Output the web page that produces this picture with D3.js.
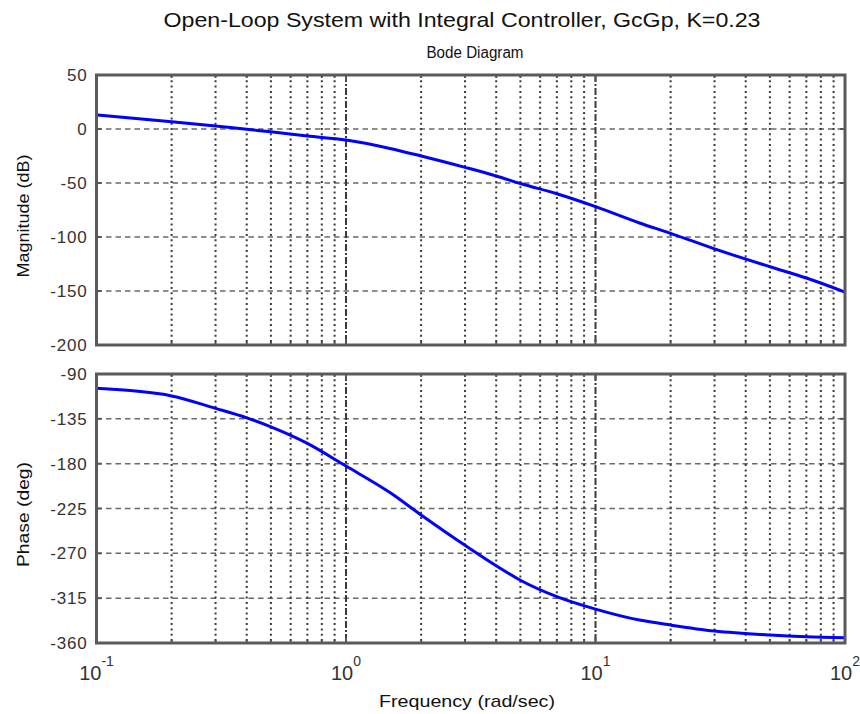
<!DOCTYPE html>
<html>
<head>
<meta charset="utf-8">
<script src="https://cdn.jsdelivr.net/npm/d3@7"></script>
<style>
  body { margin: 0; background: #fff; }
  text { font-family: "Liberation Sans", Arial, sans-serif; fill: #111; }
</style>
</head>
<body>
<div id="chart"></div>
<script>
// values
var freqs     = [0.1, 0.2, 0.3, 0.4, 0.5, 0.7, 1, 1.5, 2, 3, 4, 5, 7, 10, 15, 20, 30, 50, 70, 100];
var magDb     = [13, 6.8, 2.8, -0.3, -2.6, -6.5, -10.2, -18, -25, -35.5, -43.5, -50.5, -60, -71.9, -87, -96.6, -111, -127.5, -138, -151];
var phaseDeg  = [-104.4, -112, -124.5, -134, -143, -159.6, -182.4, -209, -231.5, -262, -282.5, -297, -313.5, -326, -337, -342, -348, -352, -353.7, -354.7];
var magTicks   = [50, 0, -50, -100, -150, -200];
var phaseTicks = [-90, -135, -180, -225, -270, -315, -360];
var decades    = [-1, 0, 1, 2];

var width = 860, height = 714;
var left = 96.5, right = 845;
var topPanel = { y0: 75, y1: 345 };
var botPanel = { y0: 374, y1: 643 };

var svg = d3.select("#chart")
  .append("svg")
  .attr("width", width)
  .attr("height", height);

var x = d3.scaleLog().domain([0.1, 100]).range([left, right]);

// minor frequencies for grid
var minorFreqs = [];
decades.slice(0, 3).forEach(function(d) {
  for (var k = 2; k <= 9; k++) minorFreqs.push(k * Math.pow(10, d));
});
var majorFreqs = [1, 10];

function drawPanel(panel, ticks, values, yLabel, labelLen) {
  var y = d3.scaleLinear()
    .domain([ticks[ticks.length - 1], ticks[0]])
    .range([panel.y1, panel.y0]);

  var g = svg.append("g");

  // horizontal dashed grid
  g.selectAll("line.hgrid")
    .data(ticks.slice(1, ticks.length - 1))
    .enter()
    .append("line")
    .attr("class", "hgrid")
    .attr("x1", left).attr("x2", right)
    .attr("y1", function(d) { return y(d); })
    .attr("y2", function(d) { return y(d); })
    .style("stroke", "#6a6a6a")
    .style("stroke-width", "1.5px")
    .style("stroke-dasharray", "5.5,4");

  // vertical dotted grid
  g.selectAll("line.vgrid")
    .data(minorFreqs)
    .enter()
    .append("line")
    .attr("class", "vgrid")
    .attr("x1", function(d) { return x(d); })
    .attr("x2", function(d) { return x(d); })
    .attr("y1", panel.y0).attr("y2", panel.y1)
    .style("stroke", "#3a3a3a")
    .style("stroke-width", "2px")
    .style("stroke-dasharray", "2,3.3");

  g.selectAll("line.vmajor")
    .data(majorFreqs)
    .enter()
    .append("line")
    .attr("class", "vmajor")
    .attr("x1", function(d) { return x(d); })
    .attr("x2", function(d) { return x(d); })
    .attr("y1", panel.y0).attr("y2", panel.y1)
    .style("stroke", "#3a3a3a")
    .style("stroke-width", "2px")
    .style("stroke-dasharray", "7,2,2,2");

  // ticks on all four sides, pointing in
  g.selectAll("line.ytickL")
    .data(ticks)
    .enter()
    .append("line")
    .attr("x1", left).attr("x2", left + 5)
    .attr("y1", function(d) { return y(d); })
    .attr("y2", function(d) { return y(d); })
    .style("stroke", "#555").style("stroke-width", "2px");

  g.selectAll("line.ytickR")
    .data(ticks)
    .enter()
    .append("line")
    .attr("x1", right - 5).attr("x2", right)
    .attr("y1", function(d) { return y(d); })
    .attr("y2", function(d) { return y(d); })
    .style("stroke", "#555").style("stroke-width", "2px");

  var allX = minorFreqs.map(function(d) { return { f: d, len: 3 }; })
    .concat(majorFreqs.map(function(d) { return { f: d, len: 6 }; }));

  g.selectAll("line.xtickB")
    .data(allX)
    .enter()
    .append("line")
    .attr("x1", function(d) { return x(d.f); })
    .attr("x2", function(d) { return x(d.f); })
    .attr("y1", panel.y1).attr("y2", function(d) { return panel.y1 - d.len; })
    .style("stroke", "#555").style("stroke-width", "2px");

  g.selectAll("line.xtickT")
    .data(allX)
    .enter()
    .append("line")
    .attr("x1", function(d) { return x(d.f); })
    .attr("x2", function(d) { return x(d.f); })
    .attr("y1", panel.y0).attr("y2", function(d) { return panel.y0 + d.len; })
    .style("stroke", "#555").style("stroke-width", "2px");

  // the curve
  var line = d3.line()
    .x(function(d, i) { return x(freqs[i]); })
    .y(function(d) { return y(d); })
    .curve(d3.curveMonotoneX);

  g.append("path")
    .datum(values)
    .attr("d", line)
    .style("fill", "none")
    .style("stroke", "#0000ff")
    .style("stroke-width", "3px");

  // frame
  g.append("rect")
    .attr("x", left).attr("y", panel.y0)
    .attr("width", right - left).attr("height", panel.y1 - panel.y0)
    .style("fill", "none")
    .style("stroke", "#5a5a5a")
    .style("stroke-width", "3px");

  // y tick labels
  g.selectAll("text.ytick")
    .data(ticks)
    .enter()
    .append("text")
    .attr("class", "ytick")
    .attr("x", left - 9)
    .attr("y", function(d) { return y(d) + 6; })
    .attr("font-size", 17)
    .attr("letter-spacing", 0.8)
    .attr("text-anchor", "end")
    .style("fill", "#333")
    .text(function(d) { return d; });

  // y label
  g.append("text")
    .attr("transform", "translate(29," + ((panel.y0 + panel.y1) / 2 + 6) + ") rotate(-90)")
    .attr("font-size", 17)
    .attr("text-anchor", "middle")
    .attr("textLength", labelLen)
    .attr("lengthAdjust", "spacingAndGlyphs")
    .text(yLabel);

  return y;
}

drawPanel(topPanel, magTicks, magDb, "Magnitude (dB)", 123);
drawPanel(botPanel, phaseTicks, phaseDeg, "Phase (deg)", 105);

// x tick labels as 10^n
var xl = svg.selectAll("text.xtick")
  .data(decades)
  .enter()
  .append("text")
  .attr("class", "xtick")
  .attr("x", function(d) { return x(Math.pow(10, d)); })
  .attr("y", 680)
  .attr("font-size", 20)
  .attr("text-anchor", "middle")
  .style("fill", "#333");

xl.append("tspan").text("10");
xl.append("tspan")
  .attr("dy", -14)
  .attr("font-size", 14)
  .text(function(d) { return d; });

svg.append("text")
  .attr("x", 467)
  .attr("y", 707)
  .attr("font-size", 17)
  .attr("text-anchor", "middle")
  .attr("textLength", 176)
  .attr("lengthAdjust", "spacingAndGlyphs")
  .text("Frequency (rad/sec)");

// titles
svg.append("text")
  .attr("x", 462)
  .attr("y", 27)
  .attr("font-size", 21)
  .attr("text-anchor", "middle")
  .attr("textLength", 597)
  .attr("lengthAdjust", "spacingAndGlyphs")
  .text("Open-Loop System with Integral Controller, GcGp, K=0.23");

svg.append("text")
  .attr("x", 475)
  .attr("y", 58)
  .attr("font-size", 16)
  .attr("text-anchor", "middle")
  .attr("textLength", 97)
  .attr("lengthAdjust", "spacingAndGlyphs")
  .text("Bode Diagram");
</script>
</body>
</html>
